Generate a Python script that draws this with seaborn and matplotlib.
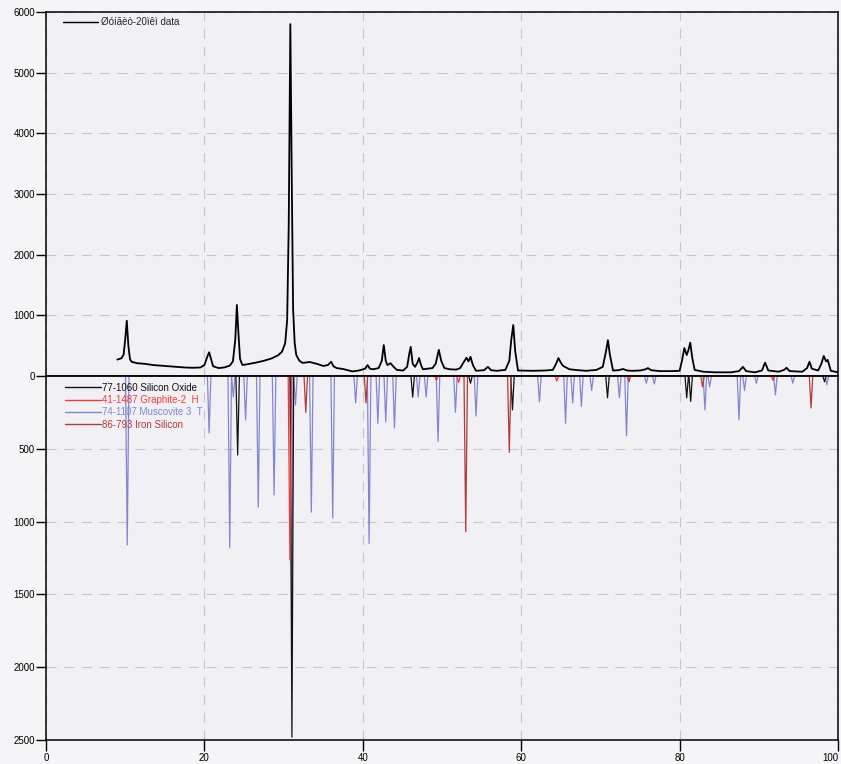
import numpy as np
import pandas as pd
import matplotlib
matplotlib.use("Agg")
import matplotlib.pyplot as plt
import seaborn as sns
from matplotlib.lines import Line2D

# ---------------- data ----------------
exp_x = [9.0, 9.5, 9.8, 10.0, 10.2, 10.4, 10.6, 10.8, 11.5, 12.5, 13.5, 14.5, 15.5, 16.5, 17.5,
         18.5, 19.5, 20.0, 20.4, 20.6, 20.8, 21.1, 21.8, 22.5, 23.2, 23.6, 23.9, 24.1, 24.3, 24.5,
         24.8, 25.5, 26.5, 27.5, 28.5, 29.3, 29.8, 30.2, 30.45, 30.65, 30.85, 31.05, 31.2, 31.4,
         31.6, 32.0, 32.4, 33.3, 34.2, 35.0, 35.6, 36.0, 36.3, 36.7, 37.5, 38.7, 39.5, 40.3, 40.6,
         40.9, 41.3, 42.0, 42.4, 42.65, 42.9, 43.1, 43.5, 43.9, 44.3, 45.1, 45.6, 45.85, 46.05,
         46.3, 46.6, 46.9, 47.1, 47.35, 47.6, 48.8, 49.2, 49.6, 49.9, 50.3, 51.0, 51.8, 52.3, 52.7,
         53.1, 53.35, 53.6, 53.9, 54.3, 55.3, 55.8, 56.2, 56.9, 58.0, 58.5, 58.75, 59.0, 59.25,
         59.6, 61.5, 63.0, 64.0, 64.4, 64.7, 65.0, 65.3, 66.1, 67.2, 68.2, 69.5, 70.3, 70.7, 70.95,
         71.2, 71.6, 72.3, 72.85, 73.4, 74.0, 75.0, 75.7, 76.0, 76.4, 77.5, 79.0, 80.0, 80.3, 80.6,
         80.9, 81.1, 81.35, 81.6, 81.9, 83.0, 84.5, 86.5, 87.5, 88.0, 88.4, 89.5, 90.4, 90.8, 91.2,
         92.5, 93.2, 93.5, 93.9, 95.5, 96.1, 96.4, 96.7, 97.5, 97.9, 98.2, 98.5, 98.7, 99.1, 100.0]
exp_y = [270, 290, 350, 600, 910, 500, 280, 235, 210, 200, 180, 170, 160, 150, 140,
         135, 140, 180, 330, 390, 300, 160, 130, 140, 170, 240, 600, 1170, 700, 280,
         180, 195, 220, 250, 290, 340, 400, 540, 920, 2500, 5800, 3000, 1100, 540,
         345, 250, 215, 230, 200, 165, 180, 235, 160, 130, 115, 75, 90, 120, 180,
         120, 110, 130, 250, 510, 250, 180, 210, 150, 100, 90, 150, 350, 480,
         200, 150, 220, 295, 180, 110, 130, 200, 430, 250, 130, 110, 105, 130, 220,
         300, 240, 315, 180, 85, 95, 150, 95, 85, 100, 250, 600, 840, 400,
         90, 85, 90, 100, 200, 295, 220, 165, 110, 95, 85, 100, 150, 400, 590,
         350, 90, 95, 115, 90, 85, 90, 110, 130, 95, 80, 80, 85, 250, 460,
         345, 420, 550, 300, 100, 70, 60, 60, 80, 150, 80, 60, 90, 220, 90,
         70, 100, 135, 80, 70, 130, 235, 120, 90, 200, 330, 240, 265, 85, 60]

sio2_pos = [24.2, 31.05, 46.3, 53.6, 58.9, 70.9, 80.9, 81.4, 98.3]
sio2_int = [543, 2480, 145, 50, 233, 150, 150, 175, 40]

graphite_pos = [30.8, 49.3, 52.1, 64.5, 91.8]
graphite_int = [1263, 30, 45, 35, 30]

muscovite_pos = [10.26, 20.6, 23.2, 23.65, 25.2, 26.8, 28.8, 31.0, 31.5, 33.5, 36.2, 39.1, 40.8,
                 41.9, 42.9, 44.0, 47.0, 48.0, 49.5, 51.7, 54.3, 62.3, 65.6, 66.5, 67.6, 68.9,
                 72.4, 73.3, 75.8, 76.8, 83.2, 83.8, 87.5, 88.2, 89.7, 92.1, 94.3, 98.6]
muscovite_int = [1160, 392, 1180, 145, 302, 900, 817, 1550, 200, 935, 975, 185, 1150,
                 325, 315, 357, 145, 145, 450, 250, 275, 178, 325, 185, 210, 100,
                 150, 410, 50, 55, 233, 75, 300, 100, 50, 130, 50, 60]

fesi_pos = [32.8, 40.4, 53.0, 58.5, 73.6, 82.9, 96.6]
fesi_int = [250, 185, 1070, 525, 40, 75, 220]

x_ticks = [0, 20, 40, 60, 80, 100]
top_yticks = [0, 1000, 2000, 3000, 4000, 5000, 6000]
bottom_yticks = [500, 1000, 1500, 2000, 2500]

exp_label = "Øóíãèò-20ìêì data"
pattern_labels = ["77-1060 Silicon Oxide", "41-1487 Graphite-2  H",
                  "74-1107 Muscovite 3  T", "86-793 Iron Silicon"]
pattern_colors = ["#111111", "#f03a3a", "#8585cf", "#b23a3a"]


def profile(pos, inten, hw=0.22):
    """peak list -> line through baseline (0..100) with narrow peaks"""
    xs, ys = [0.0], [0.0]
    for p, i in sorted(zip(pos, inten)):
        xs += [p - hw, p, p + hw]
        ys += [0.0, i, 0.0]
    xs.append(100.0)
    ys.append(0.0)
    return xs, ys


frames = []
for lab, pos, inten in zip(pattern_labels,
                           [sio2_pos, graphite_pos, muscovite_pos, fesi_pos],
                           [sio2_int, graphite_int, muscovite_int, fesi_int]):
    xs, ys = profile(pos, inten)
    frames.append(pd.DataFrame({"x": xs, "y": ys, "pattern": lab}))
draw_order = [2, 0, 1, 3]
pat_df = pd.concat([frames[k] for k in draw_order], ignore_index=True)
exp_df = pd.DataFrame({"x": exp_x, "y": exp_y})

# ---------------- figure ----------------
sns.set_theme(style="white")
plt.rcParams['font.family'] = ['Liberation Sans', 'DejaVu Sans']

fig = plt.figure(figsize=(8.41, 7.64), dpi=100, facecolor="#f5f5f8")
ax_top = fig.add_axes([0.0547, 0.5079, 0.9417, 0.4764])
ax_bot = fig.add_axes([0.0547, 0.0314, 0.9417, 0.4765], sharex=ax_top)

grid_kw = dict(color="#c6c6ca", linestyle=(0, (9, 7)), linewidth=0.8)
for ax in (ax_top, ax_bot):
    ax.set_facecolor("#f0f0f5")
    ax.grid(True, **grid_kw)
    ax.set_axisbelow(True)
    for s in ax.spines.values():
        s.set_color("black")
        s.set_linewidth(1.1)
        s.set_visible(True)

sns.lineplot(data=exp_df, x="x", y="y", ax=ax_top, color="black", lw=1.3,
             estimator=None, sort=False, legend=False)
palette = dict(zip(pattern_labels, pattern_colors))
sns.lineplot(data=pat_df, x="x", y="y", hue="pattern", palette=palette,
             hue_order=[pattern_labels[k] for k in draw_order],
             ax=ax_bot, lw=0.9, estimator=None, sort=False, legend=False)

ax_top.set_xlim(0, 100)
ax_top.set_ylim(0, 6000)
ax_bot.set_ylim(2500, 0)
ax_top.set_xticks(x_ticks)
ax_top.set_yticks(top_yticks)
ax_bot.set_yticks(bottom_yticks)
ax_top.set_xlabel("")
ax_top.set_ylabel("")
ax_bot.set_xlabel("")
ax_bot.set_ylabel("")

ax_top.tick_params(axis="x", bottom=False, labelbottom=False)
for ax in (ax_top, ax_bot):
    ax.tick_params(axis="y", left=True, direction="out", length=7.5, width=1.0,
                   pad=0.5, labelsize=7, colors="black")
ax_bot.tick_params(axis="x", bottom=True, direction="out", length=8, width=1.0,
                   pad=1.5, labelsize=7, colors="black")
ax_bot.get_xticklabels()[-1].set_horizontalalignment("right")

# legends
h_exp = [Line2D([], [], color="black", lw=1.0)]
ax_top.legend(h_exp, [exp_label], loc="upper left", bbox_to_anchor=(0.022, 0.985),
              frameon=False, fontsize=7, handlelength=3.6, handletextpad=0.3,
              borderaxespad=0, borderpad=0)

h_pat = [Line2D([], [], color=c, lw=1.0) for c in pattern_colors]
ax_bot.legend(h_pat, pattern_labels, loc="upper left", bbox_to_anchor=(0.024, 0.982),
              frameon=False, fontsize=7, handlelength=3.7, handletextpad=0.15,
              labelspacing=0.25, borderaxespad=0, borderpad=0, labelcolor="linecolor")

fig.savefig("out.png", dpi=100, facecolor=fig.get_facecolor())
